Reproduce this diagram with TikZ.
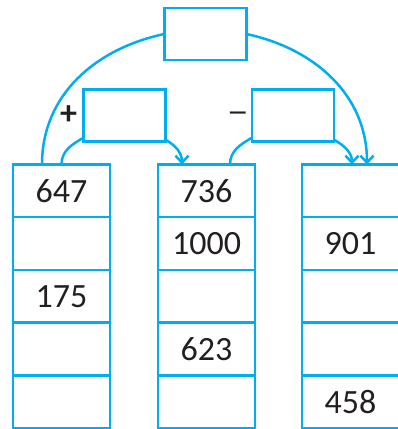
\documentclass[tikz,border=0pt]{standalone}
\usepackage{fontspec}
\usepackage{graphicx}
\setmainfont{Carlito}
\usetikzlibrary{positioning,arrows.meta}
\definecolor{gridblue}{RGB}{0,174,239}
\definecolor{numink}{RGB}{35,31,32}
\tikzset{
    cell/.style={rectangle, draw=gridblue, line width=2.5pt, minimum width=97pt, minimum height=52.7pt, inner sep=0pt, outer sep=0pt, text=numink, font=\fontsize{34}{40}\selectfont},
    box/.style={rectangle, draw=gridblue, line width=2.5pt, minimum width=82pt, minimum height=52.4pt, inner sep=0pt, outer sep=0pt},
    link/.style={draw=gridblue, line width=2.5pt},
    line/.style={link, -{Straight Barb[length=7pt,width=13pt]}},
    sign/.style={text=numink, font=\fontsize{34}{40}\selectfont}
}
\begin{document}
\begin{tikzpicture}[x=1pt, y=-1pt]
    \useasboundingbox (0,0) rectangle (397,429);

    % First column
    \node [cell] (a1) at (61.5,190.85) {647};
    \node [cell, below=0pt of a1] (a2) {};
    \node [cell, below=0pt of a2] (a3) {175};
    \node [cell, below=0pt of a3] (a4) {};
    \node [cell, below=0pt of a4] (a5) {};

    % Second column
    \node [cell] (b1) at (206.5,190.85) {736};
    \node [cell, below=0pt of b1] (b2) {1000};
    \node [cell, below=0pt of b2] (b3) {};
    \node [cell, below=0pt of b3] (b4) {623};
    \node [cell, below=0pt of b4] (b5) {};

    % Third column
    \node [cell] (c1) at (350.5,190.85) {};
    \node [cell, below=0pt of c1] (c2) {901};
    \node [cell, below=0pt of c2] (c3) {};
    \node [cell, below=0pt of c3] (c4) {};
    \node [cell, below=0pt of c4] (c5) {458};

    % Empty answer boxes
    \node [box] (total) at (205.3,34) {};
    \node [box] (addbox) at (124.5,115.5) {};
    \node [box] (subbox) at (293,115.5) {};

    % Connections
    \path [link] (total.west) to[out=192, in=90] ([xshift=-19.5pt]a1.north);
    \path [line] (total.east) to[out=-12, in=90] ([xshift=16.5pt]c1.north);
    \path [link] ([yshift=4pt]addbox.south west) to[out=210, in=90] (a1.north);
    \path [line] ([yshift=2pt]addbox.south east) to[out=-30, in=90] ([xshift=-24.5pt]b1.north);
    \path [link] ([yshift=4pt]subbox.south west) to[out=210, in=90] ([xshift=23.5pt]b1.north);
    \path [line] ([yshift=2pt]subbox.south east) to[out=-30, in=90] ([xshift=1.5pt]c1.north);

    % Signs
    \node [sign, font=\bfseries\fontsize{34}{40}\selectfont] at ([xshift=-56pt]addbox) {+};
    \node [sign] at ([shift={(-55pt,-2pt)}]subbox) {\scalebox{1.3}[1]{–}};
\end{tikzpicture}
\end{document}
